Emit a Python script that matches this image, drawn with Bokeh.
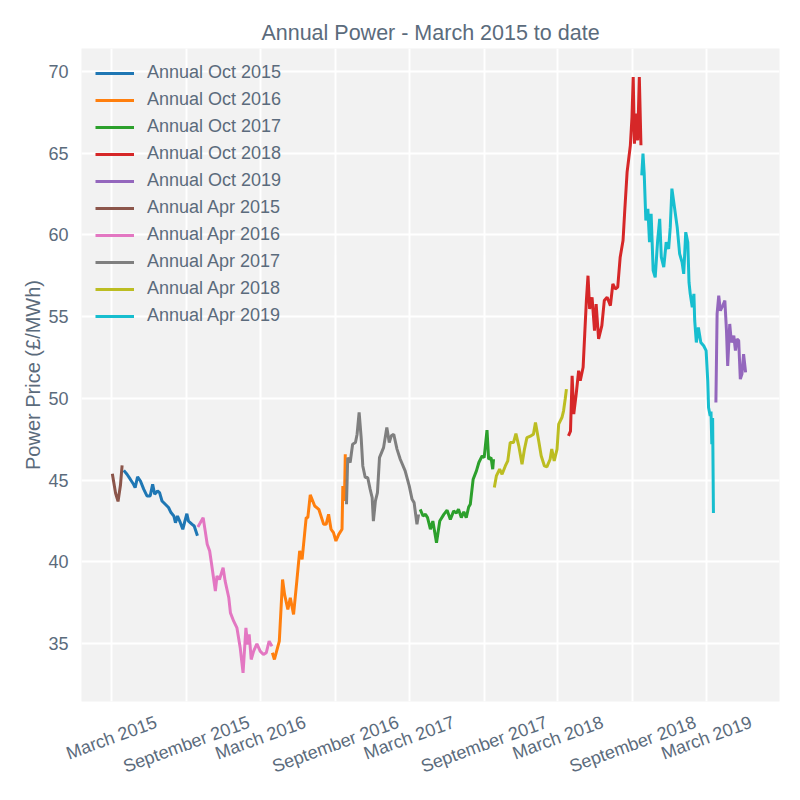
import math
import pandas as pd
from bokeh.plotting import figure
from bokeh.models import ColumnDataSource, FixedTicker, Range1d
from bokeh.embed import file_html
from bokeh.resources import INLINE

# ---------------- data ----------------
oct15_dates = ["2015-03-31", "2015-04-08", "2015-04-16", "2015-04-24", "2015-04-28", "2015-05-04",
               "2015-05-11", "2015-05-19", "2015-05-27", "2015-06-04", "2015-06-10", "2015-06-15",
               "2015-06-22", "2015-06-27", "2015-07-03", "2015-07-11", "2015-07-19", "2015-07-25",
               "2015-08-01", "2015-08-05", "2015-08-10", "2015-08-17", "2015-08-23", "2015-09-02",
               "2015-09-06", "2015-09-15", "2015-09-20", "2015-09-28"]
oct15_vals = [45.6, 45.36, 45.06, 44.75, 44.55, 45.2, 44.95, 44.45, 44.04, 44.04, 44.75, 44.14,
              44.34, 44.24, 43.73, 43.53, 43.33, 43.02, 42.81, 42.4, 42.81, 42.4, 42.0, 42.95,
              42.5, 42.3, 42.2, 41.6]

oct16_dates = ["2016-03-30", "2016-04-04", "2016-04-16", "2016-04-24", "2016-04-29", "2016-05-07",
               "2016-05-13", "2016-05-21", "2016-05-29", "2016-06-05", "2016-06-11", "2016-06-17",
               "2016-06-21", "2016-06-25", "2016-07-01", "2016-07-12", "2016-07-22", "2016-08-03",
               "2016-08-09", "2016-08-15", "2016-08-21", "2016-08-27", "2016-09-02", "2016-09-09",
               "2016-09-17", "2016-09-19", "2016-09-23", "2016-09-25"]
oct16_vals = [34.45, 34.04, 35.16, 38.93, 38.0, 37.1, 37.81, 36.79, 38.83, 40.67, 40.16, 41.69,
              42.71, 42.71, 44.1, 43.42, 43.22, 42.3, 42.3, 42.91, 42.0, 41.79, 41.28, 41.69,
              42.0, 44.65, 43.73, 46.59]

oct17_dates = ["2017-03-28", "2017-04-04", "2017-04-10", "2017-04-15", "2017-04-22", "2017-04-28",
               "2017-05-07", "2017-05-15", "2017-05-25", "2017-06-02", "2017-06-10", "2017-06-18",
               "2017-06-25", "2017-06-30", "2017-07-07", "2017-07-13", "2017-07-19", "2017-07-25",
               "2017-07-29", "2017-08-05", "2017-08-13", "2017-08-19", "2017-08-27", "2017-09-01",
               "2017-09-08", "2017-09-12", "2017-09-18", "2017-09-22", "2017-09-24"]
oct17_vals = [43.22, 42.81, 42.91, 42.71, 42.0, 42.5, 41.18, 42.5, 42.91, 43.16, 42.6, 43.11,
              43.0, 43.22, 42.71, 43.07, 42.71, 43.36, 43.53, 45.06, 45.57, 46.08, 46.49, 46.38,
              48.06, 46.28, 46.38, 45.67, 46.28]

oct18_dates = ["2018-03-27", "2018-04-01", "2018-04-05", "2018-04-09", "2018-04-15", "2018-04-21",
               "2018-04-25", "2018-05-02", "2018-05-06", "2018-05-10", "2018-05-14", "2018-05-18",
               "2018-05-24", "2018-05-30", "2018-06-03", "2018-06-09", "2018-06-17", "2018-06-23",
               "2018-06-30", "2018-07-08", "2018-07-14", "2018-07-20", "2018-07-26", "2018-08-01",
               "2018-08-08", "2018-08-12", "2018-08-18", "2018-08-22", "2018-08-26", "2018-08-30",
               "2018-09-02", "2018-09-05", "2018-09-09", "2018-09-13", "2018-09-17", "2018-09-21"]
oct18_vals = [47.71, 48.0, 51.38, 49.04, 50.26, 51.69, 51.08, 51.9, 53.94, 55.98, 57.5, 55.47,
              56.18, 54.14, 55.77, 53.63, 54.45, 55.98, 56.18, 55.67, 57.0, 56.69, 56.8, 58.63,
              59.65, 61.38, 63.83, 64.65, 65.47, 67.2, 69.65, 65.57, 67.41, 65.77, 69.65, 65.47]

oct19_dates = ["2019-03-24", "2019-03-27", "2019-03-31", "2019-04-04", "2019-04-10", "2019-04-15",
               "2019-04-19", "2019-04-22", "2019-04-27", "2019-05-01", "2019-05-07", "2019-05-11",
               "2019-05-15", "2019-05-19", "2019-05-23", "2019-05-27", "2019-05-31", "2019-06-05"]
oct19_vals = [49.75, 55.16, 56.28, 55.36, 55.67, 55.98, 54.14, 51.99, 54.55, 53.42, 53.83, 52.92,
              53.63, 53.53, 51.18, 51.49, 52.71, 51.59]

apr15_dates = ["2015-03-03", "2015-03-11", "2015-03-17", "2015-03-23", "2015-03-27"]
apr15_vals = [45.4, 44.2, 43.7, 44.7, 45.9]

apr16_dates = ["2015-09-29", "2015-10-05", "2015-10-12", "2015-10-17", "2015-10-22", "2015-10-28",
               "2015-11-03", "2015-11-11", "2015-11-15", "2015-11-21", "2015-11-30", "2015-12-05",
               "2015-12-14", "2015-12-18", "2015-12-26", "2016-01-03", "2016-01-11", "2016-01-18",
               "2016-01-25", "2016-01-29", "2016-02-02", "2016-02-07", "2016-02-13", "2016-02-21",
               "2016-02-29", "2016-03-08", "2016-03-15", "2016-03-22", "2016-03-29"]
apr16_vals = [42.14, 42.4, 42.71, 41.9, 41.08, 40.67, 39.65, 38.22, 39.14, 38.93, 39.65, 38.83,
              37.81, 36.89, 36.38, 35.97, 34.75, 33.22, 35.97, 34.95, 35.57, 34.04, 34.55, 35.0,
              34.55, 34.34, 34.45, 35.16, 34.85]

apr17_dates = ["2016-09-28", "2016-10-01", "2016-10-07", "2016-10-13", "2016-10-20", "2016-10-24",
               "2016-10-29", "2016-11-03", "2016-11-07", "2016-11-13", "2016-11-19", "2016-11-25",
               "2016-11-30", "2016-12-03", "2016-12-08", "2016-12-13", "2016-12-18", "2016-12-28",
               "2017-01-05", "2017-01-11", "2017-01-16", "2017-01-22", "2017-01-30", "2017-02-07",
               "2017-02-19", "2017-03-01", "2017-03-08", "2017-03-13", "2017-03-20", "2017-03-24"]
apr17_vals = [43.53, 46.38, 46.08, 47.2, 47.3, 47.81, 49.14, 47.6, 45.87, 45.16, 45.16, 44.45,
              43.93, 42.5, 43.73, 44.24, 46.38, 46.99, 48.22, 47.3, 47.71, 47.81, 46.9, 46.28,
              45.57, 44.65, 43.83, 43.63, 42.3, 42.91]

apr18_dates = ["2017-09-26", "2017-10-01", "2017-10-09", "2017-10-15", "2017-10-23", "2017-10-29",
               "2017-11-04", "2017-11-12", "2017-11-18", "2017-11-25", "2017-12-03", "2017-12-09",
               "2017-12-15", "2017-12-25", "2017-12-31", "2018-01-05", "2018-01-13", "2018-01-19",
               "2018-01-27", "2018-02-02", "2018-02-10", "2018-02-14", "2018-02-20", "2018-02-27",
               "2018-03-03", "2018-03-11", "2018-03-15", "2018-03-19", "2018-03-22"]
apr18_vals = [44.55, 45.26, 45.67, 45.36, 45.87, 46.18, 47.3, 47.3, 47.85, 47.1, 45.98, 46.9,
              47.6, 47.71, 47.81, 48.53, 47.4, 46.49, 45.87, 45.81, 46.28, 46.9, 46.18, 46.9,
              48.43, 48.83, 49.24, 49.96, 50.57]

apr19_dates = ["2018-09-23", "2018-09-26", "2018-09-29", "2018-10-03", "2018-10-08", "2018-10-12",
               "2018-10-16", "2018-10-21", "2018-10-26", "2018-11-01", "2018-11-06", "2018-11-10",
               "2018-11-16", "2018-11-22", "2018-11-28", "2018-12-02", "2018-12-06", "2018-12-10",
               "2018-12-19", "2018-12-25", "2018-12-31", "2019-01-04", "2019-01-09", "2019-01-14",
               "2019-01-17", "2019-01-20", "2019-01-25", "2019-01-29", "2019-01-31", "2019-02-04",
               "2019-02-09", "2019-02-15", "2019-02-22", "2019-02-28", "2019-03-04", "2019-03-06",
               "2019-03-10", "2019-03-12", "2019-03-14", "2019-03-16", "2019-03-18"]
apr19_vals = [63.63, 64.96, 63.74, 60.88, 61.59, 59.55, 61.29, 57.81, 57.4, 59.65, 60.98, 58.63,
              58.02, 59.55, 59.14, 60.47, 62.82, 62.1, 60.47, 58.84, 58.32, 57.61, 60.16, 59.55,
              57.1, 56.39, 55.57, 56.39, 54.75, 53.42, 54.34, 53.42, 53.22, 52.92, 51.08, 49.44,
              48.93, 49.2, 47.2, 48.8, 43.0]

series_names = ["Annual Oct 2015", "Annual Oct 2016", "Annual Oct 2017", "Annual Oct 2018",
                "Annual Oct 2019", "Annual Apr 2015", "Annual Apr 2016", "Annual Apr 2017",
                "Annual Apr 2018", "Annual Apr 2019"]
series_dates = [oct15_dates, oct16_dates, oct17_dates, oct18_dates, oct19_dates,
                apr15_dates, apr16_dates, apr17_dates, apr18_dates, apr19_dates]
series_vals = [oct15_vals, oct16_vals, oct17_vals, oct18_vals, oct19_vals,
               apr15_vals, apr16_vals, apr17_vals, apr18_vals, apr19_vals]

x_tick_dates = ["2015-03-01", "2015-09-01", "2016-03-01", "2016-09-01", "2017-03-01",
                "2017-09-01", "2018-03-01", "2018-09-01", "2019-03-01"]
x_tick_labels = ["March 2015", "September 2015", "March 2016", "September 2016", "March 2017",
                 "September 2017", "March 2018", "September 2018", "March 2019"]
y_ticks = [35, 40, 45, 50, 55, 60, 65, 70]

# ---------------- styling ----------------
COLORS = ["#1f77b4", "#ff7f0e", "#2ca02c", "#d62728", "#9467bd",
          "#8c564b", "#e377c2", "#7f7f7f", "#bcbd22", "#17becf"]
TEXT = "#5b6b7c"
FONT = "Liberation Sans"
W, H = 800, 800
BL, BR, BT, BB = 81, 21, 48, 99

x0 = pd.Timestamp("2014-12-17 07:00")
x1 = pd.Timestamp("2019-08-27 05:00")
p = figure(width=W, height=H, x_axis_type="datetime", output_backend="svg",
           toolbar_location=None,
           x_range=Range1d(x0, x1), y_range=Range1d(31.47, 71.39),
           min_border_left=BL, min_border_right=BR, min_border_top=BT, min_border_bottom=BB)

p.background_fill_color = "#f2f2f2"
p.border_fill_color = "white"
p.outline_line_color = None

p.title.text = "Annual Power - March 2015 to date"
p.title.align = "center"
p.title.text_font = FONT
p.title.text_font_size = "21.5px"
p.title.text_font_style = "normal"
p.title.text_color = TEXT
p.title.standoff = 7

for name, d, v, c in zip(series_names, series_dates, series_vals, COLORS):
    src = ColumnDataSource(dict(x=pd.to_datetime(d), y=v))
    p.line("x", "y", source=src, line_color=c, line_width=3, legend_label=name)

# grid at the real tick dates
tick_ms = [pd.Timestamp(t).timestamp() * 1000 for t in x_tick_dates]
p.xgrid.ticker = FixedTicker(ticks=tick_ms)
p.yaxis.ticker = FixedTicker(ticks=y_ticks)
for g in (p.xgrid, p.ygrid):
    g.grid_line_color = "white"
    g.grid_line_width = 2

# x axis: Bokeh anchors rotated labels at their right end; move the anchor so the
# label is centred on its date, as in the reference
ang = math.radians(20)
frame_w = W - BL - BR
ms_per_px = (x1 - x0).total_seconds() * 1000 / frame_w
label_ms = [t + (9.5 * len(s) / 2) * math.cos(ang) * ms_per_px
            for t, s in zip(tick_ms, x_tick_labels)]
xa = p.xaxis[0]
xa.ticker = FixedTicker(ticks=label_ms)
xa.major_label_overrides = {m: s for m, s in zip(label_ms, x_tick_labels)}
xa.major_label_orientation = ang
xa.major_label_text_font = FONT
xa.major_label_text_font_size = "18px"
xa.major_label_text_color = TEXT
xa.major_label_standoff = 20
xa.axis_line_color = None
xa.major_tick_line_color = None
xa.minor_tick_line_color = None
xa.major_tick_out = 0
xa.major_tick_in = 0

# y axis
ya = p.yaxis[0]
ya.axis_label = "Power Price (£/MWh)"
ya.axis_label_text_font = FONT
ya.axis_label_text_font_size = "20px"
ya.axis_label_text_font_style = "normal"
ya.axis_label_text_color = TEXT
ya.axis_label_standoff = 1
ya.major_label_text_font = FONT
ya.major_label_text_font_size = "18px"
ya.major_label_text_color = TEXT
ya.major_label_standoff = 13
ya.axis_line_color = None
ya.major_tick_line_color = None
ya.minor_tick_line_color = None
ya.major_tick_out = 0
ya.major_tick_in = 0

# legend
lg = p.legend[0]
lg.location = "top_left"
lg.margin = 0
lg.padding = 14
lg.spacing = 6
lg.glyph_width = 39
lg.glyph_height = 20
lg.label_height = 20
lg.label_standoff = 13
lg.label_text_font = FONT
lg.label_text_font_size = "18px"
lg.label_text_color = TEXT
lg.background_fill_alpha = 0
lg.border_line_alpha = 0

open("out.html", "w").write(file_html(p, INLINE))
